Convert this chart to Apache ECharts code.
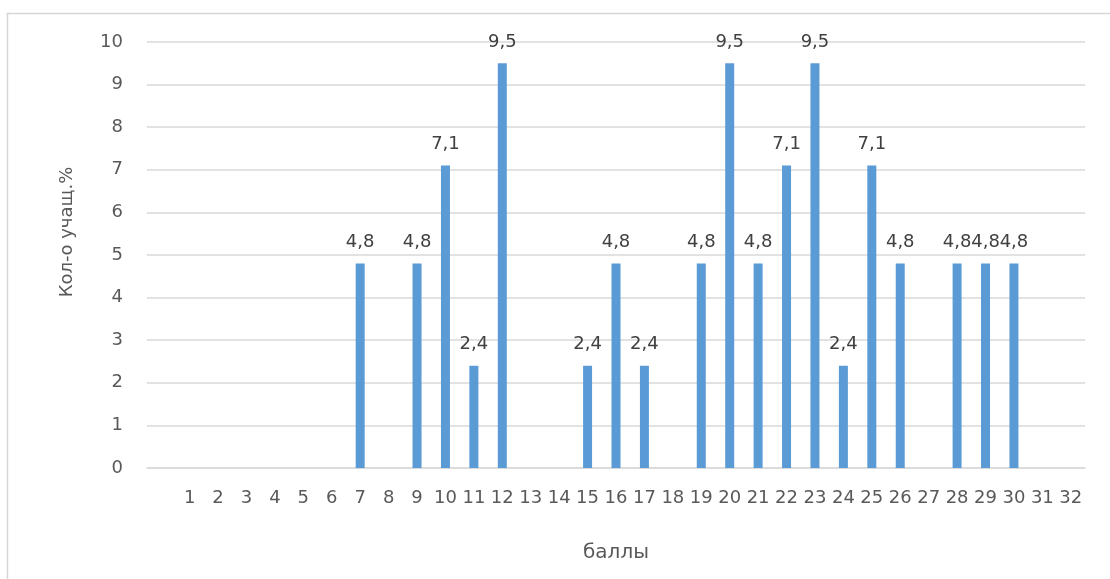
<!DOCTYPE html>
<html>
<head>
<meta charset="utf-8">
<script src="https://cdn.jsdelivr.net/npm/echarts@6/dist/echarts.min.js"></script>
<style>
  html, body { margin: 0; padding: 0; background: #fff; }
  #main { width: 1110px; height: 579px; }
</style>
</head>
<body>
<div id="main"></div>
<script>
// баллы: первая категория пустая
var categories = ['', '1', '2', '3', '4', '5', '6', '7', '8', '9', '10', '11', '12', '13', '14', '15', '16',
    '17', '18', '19', '20', '21', '22', '23', '24', '25', '26', '27', '28', '29', '30', '31', '32'];
var percents = [null, null, null, null, null, null, null, 4.8, null, 4.8, 7.1, 2.4, 9.5, null, null, 2.4, 4.8,
    2.4, null, 4.8, 9.5, 4.8, 7.1, 9.5, 2.4, 7.1, 4.8, null, 4.8, 4.8, 4.8, null, null];
var yTicks = [0, 10, 1];

var font = '"DejaVu Sans", "Open Sans", sans-serif';
var myChart = echarts.init(document.getElementById('main'));

option = {
    backgroundColor: '#ffffff',
    animation: false,
    textStyle: { fontFamily: font },
    grid: { left: 147, right: 25, top: 42, bottom: 111 },
    graphic: [
        {
            type: 'rect',
            shape: { x: 7.5, y: 13.5, width: 1120, height: 600 },
            style: { fill: 'none', stroke: '#d6d6d6', lineWidth: 1.5 }
        },
        {
            type: 'text',
            x: 67, y: 232,
            rotation: Math.PI / 2,
            style: {
                text: 'Кол-о учащ.%',
                fill: '#595959',
                font: '18px ' + font,
                align: 'center',
                verticalAlign: 'middle'
            }
        }
    ],
    xAxis: {
        type: 'category',
        data: categories,
        name: 'баллы',
        nameLocation: 'middle',
        nameGap: 75,
        nameTextStyle: { color: '#595959', fontSize: 20, fontFamily: font },
        axisLine: { lineStyle: { color: '#d9d9d9', width: 1.5 } },
        axisTick: { show: false },
        axisLabel: { interval: 0, color: '#595959', fontSize: 18, margin: 21, fontFamily: font }
    },
    yAxis: {
        type: 'value',
        min: yTicks[0],
        max: yTicks[1],
        interval: yTicks[2],
        axisLine: { show: false },
        axisTick: { show: false },
        axisLabel: { color: '#595959', fontSize: 18, margin: 24, fontFamily: font },
        splitLine: { lineStyle: { color: '#d9d9d9', width: 1.5 } }
    },
    series: [
        {
            type: 'bar',
            data: percents,
            barWidth: 9,
            itemStyle: { color: '#5b9bd5' },
            label: {
                show: true,
                position: 'top',
                distance: 12,
                color: '#404040',
                fontSize: 18,
                fontFamily: font,
                formatter: function (p) {
                    return String(p.value).replace('.', ',');
                }
            }
        }
    ]
};
myChart.setOption(option);
</script>
</body>
</html>
